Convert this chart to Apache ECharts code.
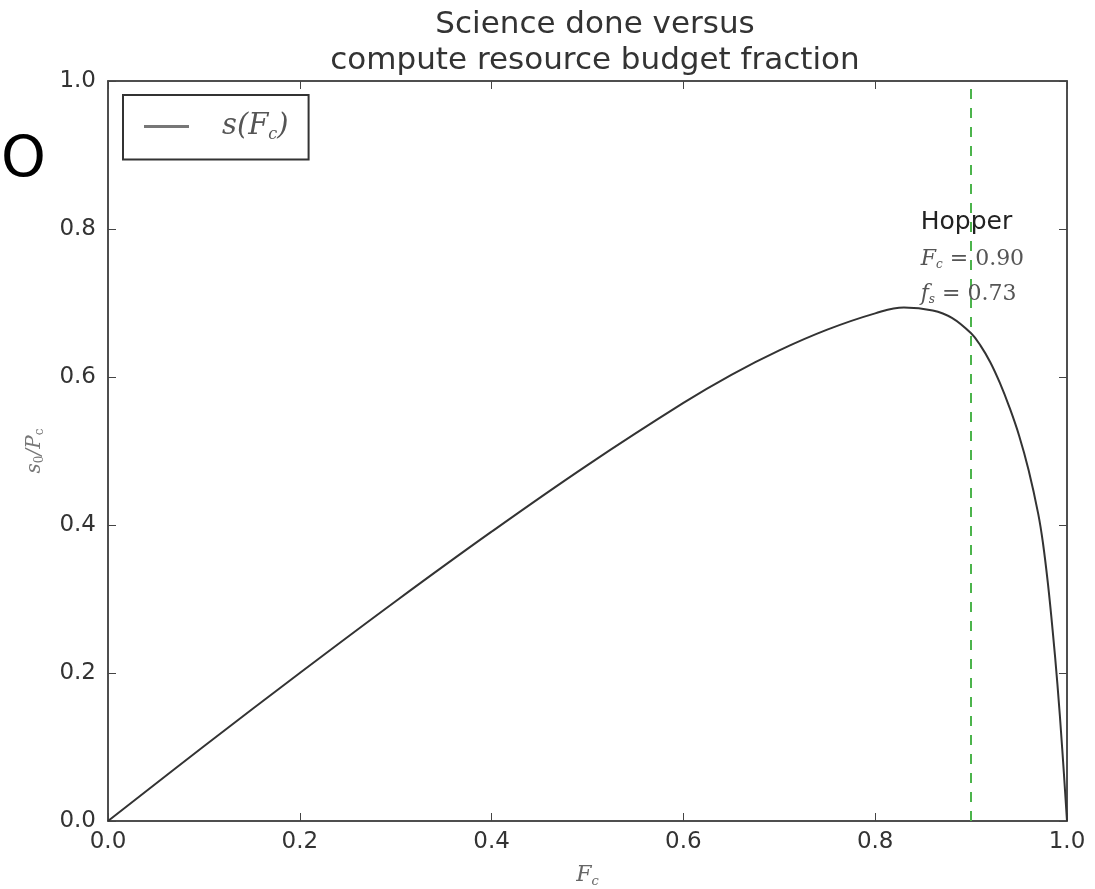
<!DOCTYPE html>
<html>
<head>
<meta charset="utf-8">
<script src="https://cdn.jsdelivr.net/npm/echarts@6/dist/echarts.min.js"></script>
<style>
  html, body { margin: 0; padding: 0; background: #fff; }
  #chart { width: 1095px; height: 889px; }
</style>
</head>
<body>
<div id="chart"></div>
<script>
// values
var fc = [0, 0.1, 0.2, 0.3, 0.4, 0.5, 0.6, 0.65, 0.7, 0.75, 0.8, 0.83, 0.86, 0.88, 0.9, 0.91, 0.92, 0.93, 0.94, 0.95, 0.96, 0.97, 0.975, 0.98, 0.985, 0.99, 0.995, 1.0];
var science = [0, 0.101, 0.2, 0.297, 0.391, 0.481, 0.565, 0.603, 0.636, 0.664, 0.686, 0.694, 0.690, 0.680, 0.659, 0.642, 0.620, 0.592, 0.559, 0.521, 0.474, 0.415, 0.375, 0.322, 0.258, 0.185, 0.098, 0];
var hopperFc = 0.90;
var hopperFs = 0.73;

var points = [];
for (var i = 0; i < fc.length; i++) {
  points.push([fc[i], science[i]]);
}

var myChart = echarts.init(document.getElementById('chart'));

var axisColor = '#444';
var tickFont = { fontFamily: 'DejaVu Sans', fontSize: 23, color: '#333' };

function fmt(v) { return v.toFixed(1); }

// the frame: matplotlib draws ticks inside on all four sides
function frameAxis(pos) {
  return {
    type: 'value', min: 0, max: 1, interval: 0.2, position: pos,
    axisLine: { show: true, onZero: false, lineStyle: { color: axisColor, width: 1.5 } },
    axisTick: { show: true, inside: true, length: 8, lineStyle: { color: axisColor } },
    axisLabel: { show: false },
    splitLine: { show: false }
  };
}

var xBottom = frameAxis('bottom');
xBottom.name = '{it|F}{sub|c}';
xBottom.nameLocation = 'middle';
xBottom.nameGap = 42;
xBottom.nameTextStyle = { rich: {
  it: { fontFamily: 'DejaVu Serif', fontStyle: 'italic', fontSize: 22, color: '#666' },
  sub: { fontFamily: 'DejaVu Serif', fontStyle: 'italic', fontSize: 13, color: '#666', padding: [12, 0, 0, 0] }
} };
xBottom.axisLabel = Object.assign({ show: true, margin: 10, formatter: fmt }, tickFont);

var yLeft = frameAxis('left');
yLeft.name = '{it|s}{sub|0}{it|/P}{sub|c}';
yLeft.nameLocation = 'middle';
yLeft.nameGap = 62;
yLeft.nameRotate = 90;
yLeft.nameTextStyle = { rich: {
  it: { fontFamily: 'DejaVu Serif', fontStyle: 'italic', fontSize: 20, color: '#777' },
  sub: { fontFamily: 'DejaVu Serif', fontSize: 12, color: '#777', padding: [10, 0, 0, 0] }
} };
yLeft.axisLabel = Object.assign({ show: true, margin: 12, formatter: fmt }, tickFont);

var option = {
  backgroundColor: '#fff',
  title: {
    text: 'Science done versus\ncompute resource budget fraction',
    left: 590,
    textAlign: 'center',
    top: 2,
    textStyle: { fontFamily: 'DejaVu Sans', fontSize: 31, fontWeight: 'normal', color: '#333', lineHeight: 36 }
  },
  legend: {
    left: 123,
    top: 95,
    padding: [17, 20, 17, 21],
    borderColor: '#333',
    borderWidth: 2,
    icon: 'rect',
    itemWidth: 45,
    itemHeight: 3,
    itemStyle: { color: '#777' },
    data: ['s(Fc)'],
    formatter: function () { return '{it|s(F}{sub|c}{it|)}'; },
    textStyle: { padding: [0, 0, 0, 28], rich: {
      it: { fontFamily: 'DejaVu Serif', fontStyle: 'italic', fontSize: 29, color: '#555' },
      sub: { fontFamily: 'DejaVu Serif', fontStyle: 'italic', fontSize: 16, color: '#555', padding: [16, 0, 0, 0] }
    } }
  },
  grid: { left: 108, right: 28, top: 81, bottom: 68, outerBoundsMode: 'none', show: true, borderColor: axisColor, borderWidth: 1.5 },
  xAxis: [xBottom, frameAxis('top')],
  yAxis: [yLeft, frameAxis('right')],
  graphic: [{
    type: 'text', left: 1, top: 134,
    style: { text: 'O', fontFamily: 'DejaVu Sans', fontSize: 57, fill: '#000' }
  }],
  series: [{
    name: 's(Fc)',
    type: 'line',
    data: points,
    symbol: 'none',
    smooth: 0.4,
    lineStyle: { color: '#333', width: 2 },
    itemStyle: { color: '#333' },
    markLine: {
      silent: true,
      symbol: 'none',
      label: { show: false },
      lineStyle: { color: '#4cb44c', type: [10, 9], width: 2 },
      data: [{ xAxis: hopperFc }]
    },
    markPoint: {
      silent: true,
      symbol: 'circle',
      symbolSize: 1,
      itemStyle: { color: 'rgba(0,0,0,0)' },
      data: [{ coord: [0.848, 0.834] }],
      label: {
        show: true,
        position: [0, 0],
        align: 'left',
        verticalAlign: 'top',
        formatter: '{h|Hopper}\n{f|F}{s|c}{m| = ' + hopperFc.toFixed(2) + '}\n{f|f}{s|s}{m| = ' + hopperFs.toFixed(2) + '}',
        rich: {
          h: { fontFamily: 'DejaVu Sans', fontSize: 25, color: '#222', lineHeight: 38 },
          f: { fontFamily: 'DejaVu Serif', fontStyle: 'italic', fontSize: 22, color: '#555', lineHeight: 35 },
          m: { fontFamily: 'DejaVu Serif', fontSize: 22, color: '#555', lineHeight: 35 },
          s: { fontFamily: 'DejaVu Serif', fontStyle: 'italic', fontSize: 12, color: '#555', lineHeight: 35, padding: [12, 0, 0, 0] }
        }
      }
    }
  }]
};

myChart.setOption(option);
</script>
</body>
</html>
